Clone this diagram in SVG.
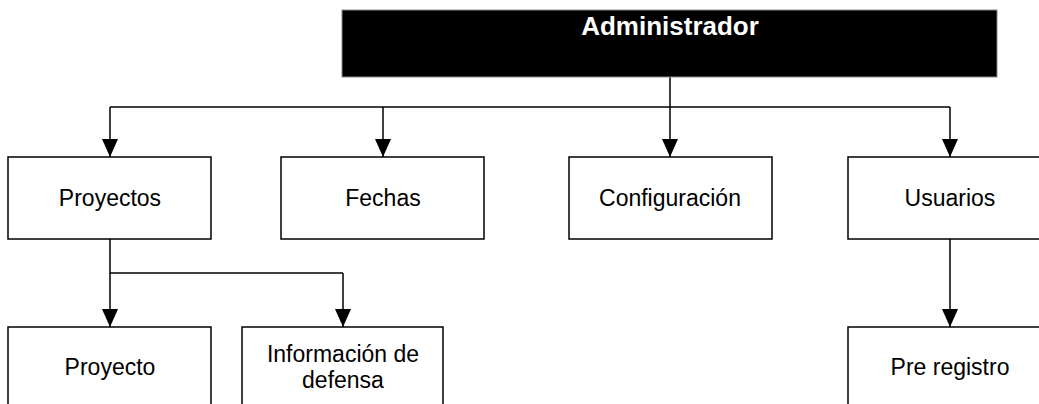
<svg xmlns="http://www.w3.org/2000/svg" width="1039" height="404" viewBox="0 0 1039 404">
<style>
.box{fill:#fff;stroke:#000;stroke-width:1.5}
.t{font-family:"Liberation Sans",Arial,sans-serif;font-size:23px;fill:#000;text-anchor:middle}
.tb{font-family:"Liberation Sans",Arial,sans-serif;font-size:26px;font-weight:bold;fill:#fff;text-anchor:middle}
.c{fill:none;stroke:#000;stroke-width:1.5}
</style>
<defs>
<marker id="arr" markerUnits="userSpaceOnUse" markerWidth="18" markerHeight="16" refX="18" refY="8" orient="auto">
<path d="M0,0 L18,8 L0,16 z" fill="#000"/>
</marker>
</defs>
<rect width="1039" height="404" fill="#fff"/>
<g id="connectors">
<path class="c" d="M670,77 V107"/>
<path class="c" d="M110,107 H950"/>
<path class="c" d="M110,107 V157" marker-end="url(#arr)"/>
<path class="c" d="M383,107 V157" marker-end="url(#arr)"/>
<path class="c" d="M670,107 V157" marker-end="url(#arr)"/>
<path class="c" d="M950,107 V157" marker-end="url(#arr)"/>
<path class="c" d="M110,239 V273 H343"/>
<path class="c" d="M110,273 V327" marker-end="url(#arr)"/>
<path class="c" d="M343,273 V327" marker-end="url(#arr)"/>
<path class="c" d="M950,239 V327" marker-end="url(#arr)"/>
</g>
<g id="administrador">
<rect x="342" y="10" width="655" height="67" fill="#000" stroke="#888" stroke-width="1"/>
<text class="tb" x="670" y="35">Administrador</text>
</g>
<g id="proyectos">
<rect class="box" x="8" y="157" width="203" height="82"/>
<text class="t" x="110" y="206">Proyectos</text>
</g>
<g id="fechas">
<rect class="box" x="281" y="157" width="203" height="82"/>
<text class="t" x="383" y="206">Fechas</text>
</g>
<g id="configuracion">
<rect class="box" x="569" y="157" width="203" height="82"/>
<text class="t" x="670" y="206">Configuración</text>
</g>
<g id="usuarios">
<rect class="box" x="848" y="157" width="203" height="82"/>
<text class="t" x="950" y="206">Usuarios</text>
</g>
<g id="proyecto">
<rect class="box" x="8" y="327" width="203" height="82"/>
<text class="t" x="110" y="375">Proyecto</text>
</g>
<g id="informacion-defensa">
<rect class="box" x="242" y="327" width="201" height="82"/>
<text class="t" x="343" y="362">Información de</text>
<text class="t" x="343" y="388">defensa</text>
</g>
<g id="pre-registro">
<rect class="box" x="848" y="327" width="203" height="82"/>
<text class="t" x="950" y="375">Pre registro</text>
</g>
</svg>
